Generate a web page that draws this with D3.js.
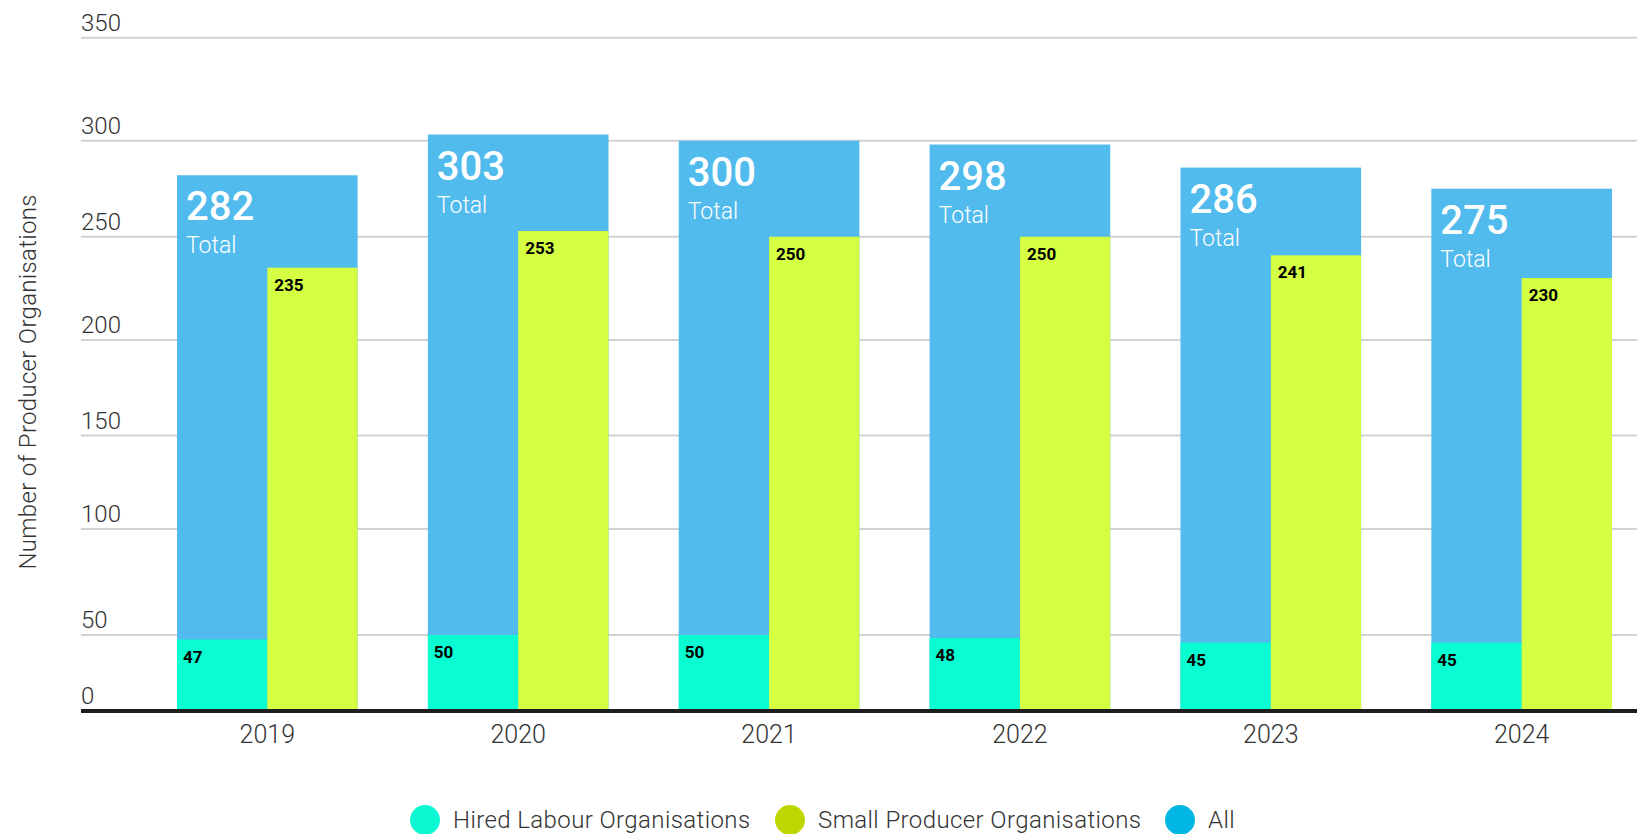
<!DOCTYPE html>
<html>
<head>
<meta charset="utf-8">
<script src="https://cdn.jsdelivr.net/npm/d3@7"></script>
<style>
  html, body { margin: 0; padding: 0; background: #fff; }
  svg { display: block; font-family: Roboto, "Open Sans", sans-serif; }
</style>
</head>
<body>
<div id="chart"></div>
<script>
// Data
const years = ["2019", "2020", "2021", "2022", "2023", "2024"];
const hiredLabour = [47, 50, 50, 48, 45, 45];
const smallProducer = [235, 253, 250, 250, 241, 230];
const totals = [282, 303, 300, 298, 286, 275];
const yTicks = [0, 50, 100, 150, 200, 250, 300, 350];
const legendLabels = ["Hired Labour Organisations", "Small Producer Organisations", "All"];

const width = 1637, height = 834;
const colors = { teal: "#0afcd2", green: "#d4ff42", blue: "#50bbec" };
const legendColors = ["#0cf8d3", "#bfd700", "#00b7e4"];

const svg = d3.select("#chart").append("svg")
  .attr("width", width)
  .attr("height", height);

// The original's gridlines are not evenly spaced, so map each tick to its row
const y = d3.scaleLinear()
  .domain(yTicks)
  .range([711, 635, 529, 435.5, 340, 236.7, 140.7, 37.7]);

const x = d3.scaleBand()
  .domain(years)
  .range([177, 1612])
  .paddingInner(0.28)
  .paddingOuter(0);

const half = x.bandwidth() / 2;

// Grid lines
svg.append("g").attr("class", "grid")
  .selectAll("line")
  .data(yTicks.slice(1))
  .enter().append("line")
  .attr("x1", 81)
  .attr("x2", width)
  .attr("y1", d => y(d))
  .attr("y2", d => y(d))
  .attr("stroke", "#d2d2d2")
  .attr("stroke-width", 2);

// Tick labels
svg.append("g").attr("class", "y-ticks")
  .selectAll("text")
  .data(yTicks)
  .enter().append("text")
  .attr("x", 81)
  .attr("y", d => y(d) - 7)
  .attr("fill", "#333")
  .style("font-size", "24px")
  .style("font-weight", "300")
  .text(d => d);

const groups = svg.selectAll(".year")
  .data(years)
  .enter().append("g")
  .attr("class", "year");

// Total bar (full group width)
groups.append("rect")
  .attr("x", d => x(d))
  .attr("width", x.bandwidth())
  .attr("y", (d, i) => y(totals[i]))
  .attr("height", (d, i) => y(0) - y(totals[i]))
  .attr("fill", colors.blue);

// Hired labour (left half)
groups.append("rect")
  .attr("x", d => x(d))
  .attr("width", half)
  .attr("y", (d, i) => y(hiredLabour[i]))
  .attr("height", (d, i) => y(0) - y(hiredLabour[i]))
  .attr("fill", colors.teal);

// Small producer (right half)
groups.append("rect")
  .attr("x", d => x(d) + half)
  .attr("width", half)
  .attr("y", (d, i) => y(smallProducer[i]))
  .attr("height", (d, i) => y(0) - y(smallProducer[i]))
  .attr("fill", colors.green);

// Total labels
groups.append("text")
  .attr("x", d => x(d) + 9)
  .attr("y", (d, i) => y(totals[i]) + 45)
  .attr("fill", "#fff")
  .style("font-size", "40px")
  .style("font-weight", "500")
  .text((d, i) => totals[i]);

groups.append("text")
  .attr("x", d => x(d) + 9)
  .attr("y", (d, i) => y(totals[i]) + 78)
  .attr("fill", "#fff")
  .style("font-size", "23px")
  .style("font-weight", "300")
  .text("Total");

// Value labels
groups.append("text")
  .attr("x", d => x(d) + 6)
  .attr("y", (d, i) => y(hiredLabour[i]) + 23)
  .attr("fill", "#000")
  .style("font-size", "17px")
  .style("font-weight", "700")
  .text((d, i) => hiredLabour[i]);

groups.append("text")
  .attr("x", d => x(d) + half + 7)
  .attr("y", (d, i) => y(smallProducer[i]) + 23)
  .attr("fill", "#000")
  .style("font-size", "17px")
  .style("font-weight", "700")
  .text((d, i) => smallProducer[i]);

// X axis
const xAxis = svg.append("g")
  .attr("transform", `translate(0,${y(0)})`)
  .call(d3.axisBottom(x).tickSize(0).tickPadding(14));
xAxis.select(".domain").remove();
xAxis.selectAll("text")
  .attr("fill", "#333")
  .style("font-family", "Roboto, sans-serif")
  .style("font-size", "25px")
  .style("font-weight", "300");

svg.append("line")
  .attr("x1", 81)
  .attr("x2", width)
  .attr("y1", y(0))
  .attr("y2", y(0))
  .attr("stroke", "#1e1e1e")
  .attr("stroke-width", 4);

// Axis title
svg.append("text")
  .attr("transform", "translate(36,382) rotate(-90)")
  .attr("text-anchor", "middle")
  .attr("fill", "#333")
  .style("font-size", "24px")
  .style("font-weight", "300")
  .style("letter-spacing", "0.3px")
  .text("Number of Producer Organisations");

// Legend
const legendX = [425, 790, 1180];
const legend = svg.append("g").attr("class", "legend");
const items = legend.selectAll("g")
  .data(legendLabels)
  .enter().append("g")
  .attr("transform", (d, i) => `translate(${legendX[i]},820)`);

items.append("circle")
  .attr("r", 15)
  .attr("fill", (d, i) => legendColors[i]);

items.append("text")
  .attr("x", 28)
  .attr("y", 8)
  .attr("fill", "#333")
  .style("font-size", "24px")
  .style("font-weight", "300")
  .style("letter-spacing", "0.4px")
  .text(d => d);
</script>
</body>
</html>
